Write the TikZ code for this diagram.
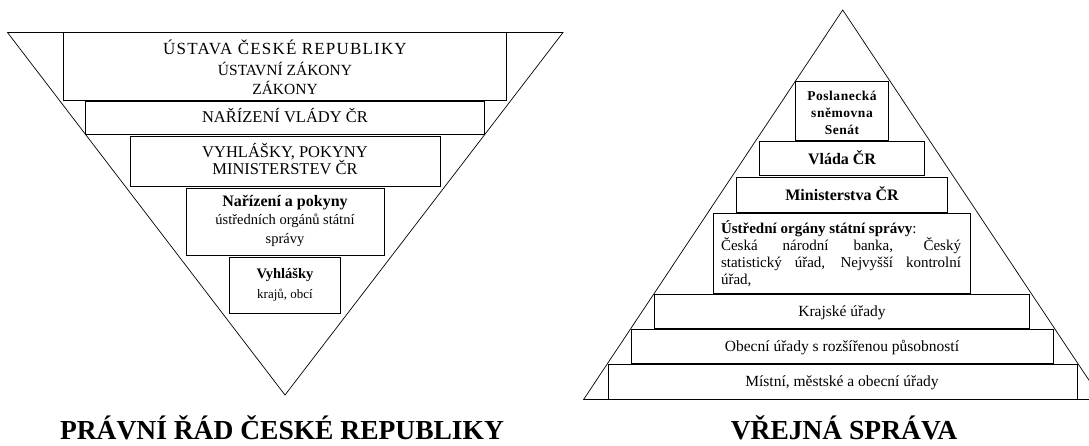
\documentclass[tikz,border=0pt]{standalone}
\usepackage{fontspec}
\setmainfont{Liberation Serif}
\newfontfamily\spaced[LetterSpace=7]{Liberation Serif}
\newfontfamily\spacedb[LetterSpace=4]{Liberation Serif}
\tikzset{
  tri/.style={draw, line width=0.7pt},
  box/.style={draw, line width=1pt, rectangle, inner sep=0pt, outer sep=0pt, anchor=north west},
  txt/.style={inner sep=0pt, outer sep=0pt, anchor=base},
  ttl/.style={inner sep=0pt, anchor=base, font=\fontsize{27.5}{30}\selectfont\bfseries},
}
\newcommand\fs[1]{\fontsize{#1}{#1}\selectfont}
\begin{document}
\begin{tikzpicture}[x=1pt,y=-1pt]
\useasboundingbox (0,0) rectangle (1089,446);
\clip (0,0) rectangle (1089,446);
% ---------- left inverted triangle ----------
\coordinate (LTL) at (7.5,32.5);
\coordinate (LTR) at (563,32.5);
\coordinate (LAP) at (285,395);
\draw[tri] (LTL) -- (LTR) -- (LAP) -- cycle;
\node[box, minimum width=443pt, minimum height=68pt] (b1) at (63.5,32.5) {};
\node[box, minimum width=399pt, minimum height=33.5pt] (b2) at (85.5,101.5) {};
\node[box, minimum width=310pt, minimum height=50.5pt] (b3) at (130,136.5) {};
\node[box, minimum width=198pt, minimum height=66.5pt] (b4) at (186,189) {};
\node[box, minimum width=111pt, minimum height=56pt] (b5) at (229.5,257.5) {};
\node[txt, font=\spaced\fs{17}] (t1a) at (285,55) {ÚSTAVA ČESKÉ REPUBLIKY};
\node[txt, font=\fs{15.5}] (t1b) at (285,75.5) {ÚSTAVNÍ ZÁKONY};
\node[txt, font=\fs{15.5}] (t1c) at (285,94.5) {ZÁKONY};
\node[txt, font=\fs{16.5}] (t2) at (285,123) {NAŘÍZENÍ VLÁDY ČR};
\node[txt, font=\fs{16.5}] (t3a) at (285,157.5) {VYHLÁŠKY, POKYNY};
\node[txt, font=\fs{16.5}] (t3b) at (285,175) {MINISTERSTEV ČR};
\node[txt, font=\fs{16}\bfseries] (t4a) at (285,206.5) {Nařízení a pokyny};
\node[txt, font=\fs{14.5}] (t4b) at (285,225) {ústředních orgánů státní};
\node[txt, font=\fs{14.5}] (t4c) at (285,243.5) {správy};
\node[txt, font=\fs{14.5}\bfseries] (t5a) at (285,279) {Vyhlášky};
\node[txt, font=\fs{13}] (t5b) at (285,298.5) {krajů, obcí};
\node[ttl] (title1) at (282,439) {PRÁVNÍ ŘÁD ČESKÉ REPUBLIKY};
% ---------- right pyramid ----------
\coordinate (RAP) at (842.7,10);
\coordinate (RBL) at (583.6,399.5);
\coordinate (RBR) at (1101.8,399.5);
\draw[tri] (RAP) -- (RBR) -- (RBL) -- cycle;
\node[box, minimum width=92.5pt, minimum height=59pt] (bA) at (795.5,81.5) {};
\node[box, minimum width=165pt, minimum height=34pt] (bB) at (759.5,142) {};
\node[box, minimum width=211pt, minimum height=35pt] (bC) at (736.5,177.5) {};
\node[box, minimum width=257pt, minimum height=79.5pt] (bD) at (713.5,213.5) {};
\node[box, minimum width=375pt, minimum height=33.5pt] (bE) at (654.5,294.5) {};
\node[box, minimum width=422pt, minimum height=34pt] (bF) at (631,329.5) {};
\node[box, minimum width=469pt, minimum height=35pt] (bG) at (608,364.5) {};
\node[txt, font=\spacedb\bfseries\fs{13.5}] (tAa) at (842,101) {Poslanecká};
\node[txt, font=\spacedb\bfseries\fs{13.5}] (tAb) at (842,118) {sněmovna};
\node[txt, font=\spacedb\bfseries\fs{13.5}] (tAc) at (842,134.5) {Senát};
\node[txt, font=\fs{16}\bfseries] (tB) at (842,165) {Vláda ČR};
\node[txt, font=\fs{16}\bfseries] (tC) at (842,200.5) {Ministerstva ČR};
\node[inner sep=0pt, outer sep=0pt, anchor=base west] (tD) at (721,234)
  {\parbox[t]{240pt}{\fontsize{15}{17}\selectfont\textbf{Ústřední orgány státní správy}:\\
   Česká národní banka, Český\linebreak statistický úřad, Nejvyšší kontrolní\linebreak úřad,}};
\node[txt, font=\fs{15.5}] (tE) at (842,316) {Krajské úřady};
\node[txt, font=\fs{15.5}] (tF) at (842,351.5) {Obecní úřady s rozšířenou působností};
\node[txt, font=\fs{15.5}] (tG) at (842,386.5) {Místní, městské a obecní úřady};
\node[ttl] (title2) at (844,439) {VŘEJNÁ SPRÁVA};
\end{tikzpicture}
\end{document}
